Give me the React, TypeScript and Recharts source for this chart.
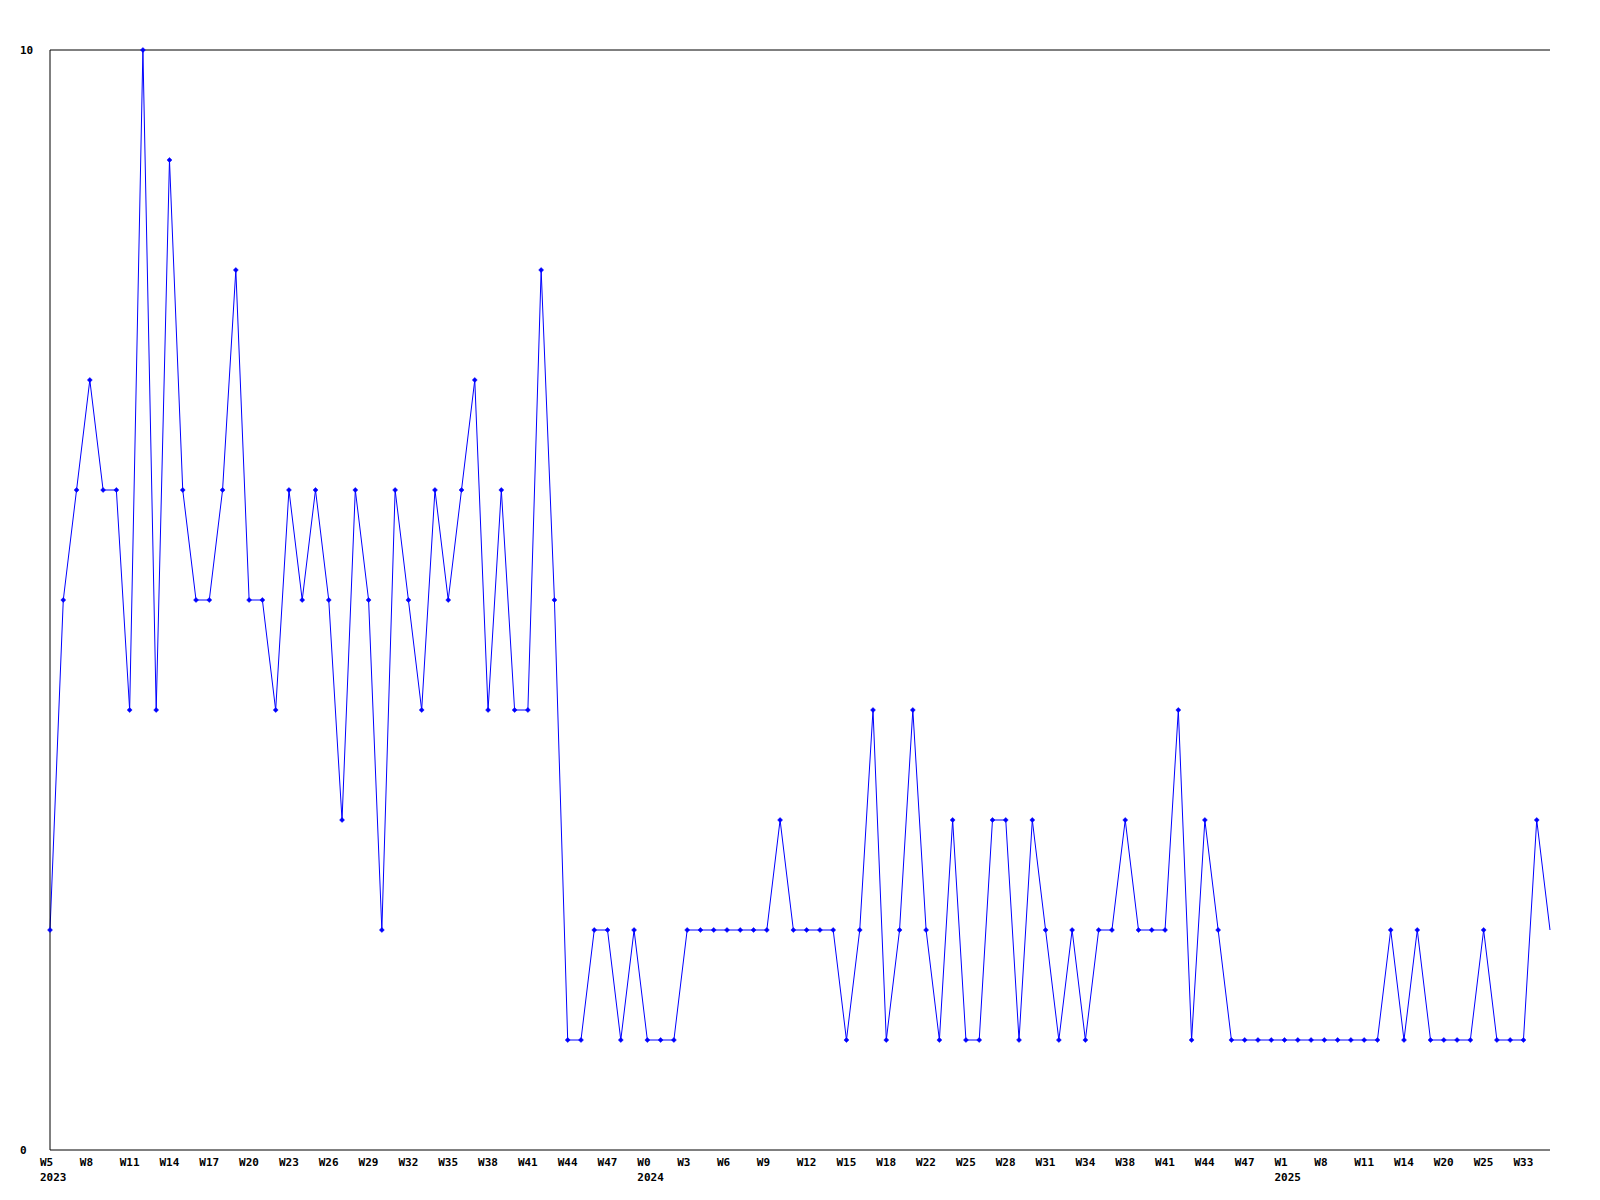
import { LineChart, Line, XAxis, YAxis, ReferenceLine } from 'recharts';

// weeks that have data, per year (gaps are weeks with no entries)
const weeks2023 = [5, 6, 7, 8, 9, 10, 11, 12, 13, 14, 15, 16, 17, 18, 19, 20, 21, 22, 23, 24, 25, 26, 27, 28, 29, 30, 31, 32, 33, 34, 35, 36, 37, 38, 39, 40, 41, 42, 43, 44, 45, 46, 47, 48, 49];
const weeks2024 = [0, 1, 2, 3, 4, 5, 6, 7, 8, 9, 10, 11, 12, 13, 14, 15, 16, 17, 18, 20, 21, 22, 23, 24, 25, 26, 27, 28, 29, 30, 31, 32, 33, 34, 36, 37, 38, 39, 40, 41, 42, 43, 44, 45, 46, 47, 48, 49];
const weeks2025 = [1, 3, 5, 8, 9, 10, 11, 12, 13, 14, 16, 18, 20, 22, 23, 25, 27, 30, 33, 34, 35];

const counts2023 = [2, 5, 6, 7, 6, 6, 4, 10, 4, 9, 6, 5, 5, 6, 8, 5, 5, 4, 6, 5, 6, 5, 3, 6, 5, 2, 6, 5, 4, 6, 5, 6, 7, 4, 6, 4, 4, 8, 5, 1, 1, 2, 2, 1, 2];
const counts2024 = [1, 1, 1, 2, 2, 2, 2, 2, 2, 2, 3, 2, 2, 2, 2, 1, 2, 4, 1, 2, 4, 2, 1, 3, 1, 1, 3, 3, 1, 3, 2, 1, 2, 1, 2, 2, 3, 2, 2, 2, 4, 1, 3, 2, 1, 1, 1, 1];
const counts2025 = [1, 1, 1, 1, 1, 1, 1, 1, 2, 1, 2, 1, 1, 1, 1, 2, 1, 1, 1, 3, 2];

const yTicks = [0, 10];

const years = [
  { year: '2023', weeks: weeks2023, counts: counts2023 },
  { year: '2024', weeks: weeks2024, counts: counts2024 },
  { year: '2025', weeks: weeks2025, counts: counts2025 },
];

const data: { key: string; week: string; year: string; count: number }[] = [];
const yearStarts = new Set<string>();
years.forEach(({ year, weeks, counts }) => {
  weeks.forEach((w, i) => {
    const key = `${year}-W${w}`;
    if (i === 0) yearStarts.add(key);
    data.push({ key, week: `W${w}`, year, count: counts[i] });
  });
});

const FONT = '"DejaVu Sans Mono", monospace';

const XTick = (props: any) => {
  const { x, y, payload } = props;
  const key: string = payload.value;
  const [year, week] = key.split('-');
  return (
    <g>
      <text x={x - 10} y={1162} textAnchor="start" dominantBaseline="central"
        fontFamily={FONT} fontSize={11} fontWeight="bold" fill="#000">
        {week}
      </text>
      {yearStarts.has(key) && (
        <text x={x - 10} y={1177} textAnchor="start" dominantBaseline="central"
          fontFamily={FONT} fontSize={11} fontWeight="bold" fill="#000">
          {year}
        </text>
      )}
    </g>
  );
};

const YTick = (props: any) => {
  const { y, payload } = props;
  return (
    <text x={20} y={y} textAnchor="start" dominantBaseline="central"
      fontFamily={FONT} fontSize={11} fontWeight="bold" fill="#000">
      {payload.value}
    </text>
  );
};

const Diamond = (props: any) => {
  const { cx, cy, index } = props;
  if (index === data.length - 1 || cx == null || cy == null) return <g key={`d-${index}`} />;
  const r = 2.5;
  return (
    <path key={`d-${index}`} d={`M${cx},${cy - r}L${cx + r},${cy}L${cx},${cy + r}L${cx - r},${cy}Z`}
      fill="#0000ff" stroke="#0000ff" strokeWidth={0.5} />
  );
};

export default function App() {
  return (
    <div style={{ position: 'absolute', left: 0, top: 0, width: 1600, height: 1200, background: '#fff' }}>
      <LineChart width={1600} height={1200} data={data} margin={{ top: 50, right: 50, bottom: 0, left: 0 }}>
        <XAxis dataKey="key" interval={2} tick={<XTick />} tickLine={false}
          axisLine={{ stroke: '#000', strokeWidth: 1 }} height={50} />
        <YAxis domain={[0, 10]} ticks={yTicks} tick={<YTick />} tickLine={false}
          axisLine={{ stroke: '#000', strokeWidth: 1 }} width={50} />
        <ReferenceLine y={10} stroke="#000" strokeWidth={1} />
        <Line type="linear" dataKey="count" stroke="#0000ff" strokeWidth={1}
          dot={Diamond} activeDot={false} isAnimationActive={false} />
      </LineChart>
    </div>
  );
}
